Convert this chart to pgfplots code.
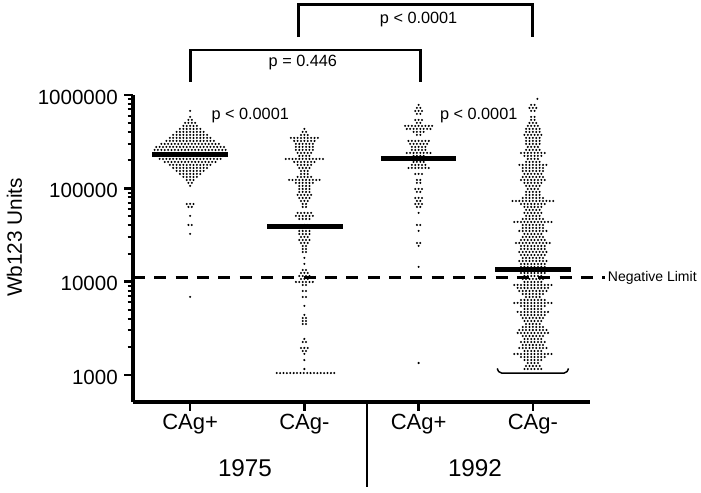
\documentclass[border=0pt]{standalone}
\usepackage{fontspec}
\setmainfont{Liberation Sans}
\usepackage{pgfplots}
\usepackage{pgfplotstable}
\pgfplotsset{compat=1.18}

% one beeswarm row: n dots side by side at one value (n is the point meta)
\newcount\dotk
\newcount\rowncount
\def\beedotstep{%
  \ifnum\dotk<\rowncount
    \advance\dotk by 1
    \pgfpathcircle{\pgfqpoint{\numexpr2*\dotk-\rowncount-1\relax\dimexpr1.27pt\relax}{0pt}}{0.85pt}%
    \expandafter\beedotstep
  \fi}
\pgfdeclareplotmark{beedots}{\rowncount=\pgfplotspointmeta\relax\dotk=0 \beedotstep\pgfusepath{fill}}

\pgfplotsset{
  bee/.style={
    only marks, scatter, mark=beedots, black,
    point meta=explicit symbolic,
    scatter/@pre marker code/.code={},
    scatter/@post marker code/.code={},
  },
}

% 1975 CAg+
\pgfplotstableread{
x y n
0 675500 1
0 582600 1
0 541000 2
0 502400 4
0 466500 5
0 433300 7
0 402300 9
0 373600 11
0 346900 13
0 322200 15
0 299200 18
0 277800 21
0 258000 22
0 239600 22
0 222500 22
0 206600 19
0 191900 16
0 178200 13
0 165400 11
0 153600 9
0 142700 7
0 132500 5
0 123000 3
0 114300 2
0 106100 1
0 68045 3
0 63185 2
0 50603 1
0 40524 2
0 32452 1
0 6855 1
}\gA

% 1975 CAg-
\pgfplotstableread{
x y n
1 433300 1
1 402300 2
1 373600 3
1 346900 9
1 322200 7
1 299200 6
1 277800 6
1 258000 6
1 239600 5
1 222500 4
1 206600 12
1 191900 7
1 178200 5
1 165400 4
1 153600 3
1 142700 3
1 132500 5
1 123000 10
1 114300 6
1 106100 4
1 98520 4
1 91500 4
1 84960 5
1 78900 4
1 73270 3
1 68045 2
1 63185 2
1 54490 5
1 50603 6
1 46990 4
1 40524 3
1 37634 4
1 34949 4
1 32452 4
1 30138 3
1 27987 4
1 25990 3
1 24134 2
1 22413 2
1 20813 2
1 17948 1
1 15478 1
1 13348 2
1 12395 3
1 11510 4
1 10690 3
1 9927 6
1 9219 2
1 7950 2
1 6855 2
1 5491 1
1 4397 1
1 4083 2
1 3792 2
1 3521 2
1 2432 1
1 2258 2
1 1948 3
1 1809 2
1 1680 1
1 1448 1
1 1160 1
1.01 1050 18
}\gB

% 1992 CAg+
\pgfplotstableread{
x y n
2 783400 1
2 727500 2
2 675500 3
2 627400 2
2 541000 3
2 502400 2
2 466500 9
2 433300 8
2 402300 4
2 373600 2
2 322200 7
2 299200 6
2 277800 5
2 258000 5
2 239600 8
2 222500 4
2 206600 4
2 191900 4
2 178200 5
2 165400 7
2 142700 3
2 123000 2
2 114300 2
2 98520 3
2 91500 2
2 78900 3
2 73270 2
2 68045 3
2 63185 2
2 54490 1
2 40524 2
2 34949 1
2 25990 2
2 24134 1
2 14373 1
2 1345 1
}\gC

% 1992 CAg-
\pgfplotstableread{
x y n
3.04 908500 1
3 783400 2
3 727500 3
3 675500 2
3 582600 2
3 541000 2
3 502400 3
3 466500 4
3 433300 5
3 402300 5
3 373600 6
3 346900 5
3 322200 5
3 299200 5
3 277800 4
3 258000 5
3 239600 8
3 222500 6
3 206600 4
3 191900 5
3 178200 9
3 165400 7
3 153600 7
3 142700 6
3 132500 7
3 123000 8
3 114300 6
3 106100 5
3 98520 4
3 91500 5
3 84960 5
3 78900 7
3 73270 13
3 68045 8
3 63185 6
3 58680 5
3 54490 6
3 50603 5
3 46990 7
3 43640 12
3 40524 7
3 37634 7
3 34949 9
3 32452 6
3 30138 7
3 27987 8
3 25990 11
3 24134 8
3 22413 8
3 20813 9
3 19328 8
3 17948 7
3 16668 9
3 15478 8
3 14373 8
3 13348 8
3 12395 8
3 11510 6
3 10690 7
3 9927 6
3 9219 12
3 8562 10
3 7950 9
3 7383 7
3 6855 5
3 6368 8
3 5913 12
3 5491 8
3 5099 6
3 4735 10
3 4397 8
3 4083 7
3 3792 6
3 3521 5
3 3270 7
3 3036 9
3 2820 10
3 2618 7
3 2432 6
3 2258 8
3 2097 7
3 1948 9
3 1809 6
3 1680 12
3 1559 8
3 1448 6
3 1345 4
3 1249 5
3 1160 6
}\gD

\begin{document}
\begin{tikzpicture}
\useasboundingbox (-99.75pt,-68.25pt) rectangle (426pt,301.5pt);
\begin{axis}[
  at={(0pt,0pt)}, anchor=south west,
  scale only axis, width=342.75pt, height=230.25pt,
  xmin=-0.5, xmax=3.5,
  ymode=log, ymin=514, ymax=1000000,
  axis x line*=bottom, axis y line*=left,
  axis line style={line width=2.3pt},
  tick align=outside,
  major tick length=6.5pt, minor tick length=4pt,
  major tick style={line width=1.8pt, black},
  minor tick style={line width=1.5pt, black},
  xtick={0,1,2,3},
  xticklabels={CAg+,CAg-,CAg+,CAg-},
  minor x tick num=0,
  ytick={1000,10000,100000,1000000},
  yticklabels={1000,10000,100000,1000000},
  /pgf/number format/assume math mode=true,
  xticklabel style={font=\fontsize{16.5}{18}\selectfont, anchor=base, inner sep=0pt, yshift=-14.5pt},
  yticklabel style={font=\fontsize{15.4}{17}\selectfont, anchor=east, inner sep=0pt, xshift=-4.75pt, yshift=-1.5pt},
  ylabel={Wb123 Units},
  every axis y label/.style={at={(axis description cs:-0.2593,0.536)}, rotate=90, anchor=center, font=\fontsize{15.6}{17}\selectfont},
  clip=false,
]
\addplot[bee] table[x=x, y=y, meta=n] {\gA};
\addplot[bee] table[x=x, y=y, meta=n] {\gB};
\addplot[bee] table[x=x, y=y, meta=n] {\gC};
\addplot[bee] table[x=x, y=y, meta=n] {\gD};
% means
\addplot[line width=3.75pt] coordinates {(-0.33,228000) (0.33,228000)};
\addplot[line width=3.75pt] coordinates {(0.674,38560) (1.334,38560)};
\addplot[line width=3.75pt] coordinates {(1.67,206600) (2.33,206600)};
\addplot[line width=3.75pt] coordinates {(2.67,13348) (3.33,13348)};
% detection limit brace
\addplot[line width=1.1pt, line join=round] coordinates {(2.688,1175) (2.70,1090) (2.725,1050) (3.275,1050) (3.30,1090) (3.312,1175)};
% negative limit
\addplot[line width=2.25pt, dash pattern=on 9pt off 7pt] coordinates {(-0.5,11000) (3.63,11000)};
\node[anchor=west, inner sep=0pt, font=\fontsize{10.5}{12}\selectfont] at (axis cs:3.655,11000) {Negative Limit};
% p values
\node[anchor=base, font=\fontsize{12.2}{14}\selectfont] at (axis cs:0.526,553000) {p < 0.0001};
\node[anchor=base, font=\fontsize{12.2}{14}\selectfont] at (axis cs:2.526,553000) {p < 0.0001};
\draw[line width=2.2pt] (axis cs:0.95,4180000) -- (axis cs:0.95,9220000) -- (axis cs:3,9220000) -- (axis cs:3,4180000);
\node[anchor=base, font=\fontsize{12.2}{14}\selectfont] at (axis cs:2,5770000) {p < 0.0001};
\draw[line width=2.2pt] (axis cs:0,1388000) -- (axis cs:0,3036000) -- (axis cs:2.02,3036000) -- (axis cs:2.02,1388000);
\node[anchor=base, font=\fontsize{12.2}{14}\selectfont] at (axis cs:0.987,2000000) {p = 0.446};
\end{axis}
\draw[line width=2.2pt] (175.5pt,0pt) -- (175.5pt,-64pt);
\node[anchor=base, font=\fontsize{18.2}{20}\selectfont] at (84pt,-56pt) {1975};
\node[anchor=base, font=\fontsize{18.2}{20}\selectfont] at (256.5pt,-56pt) {1992};
\end{tikzpicture}
\end{document}
